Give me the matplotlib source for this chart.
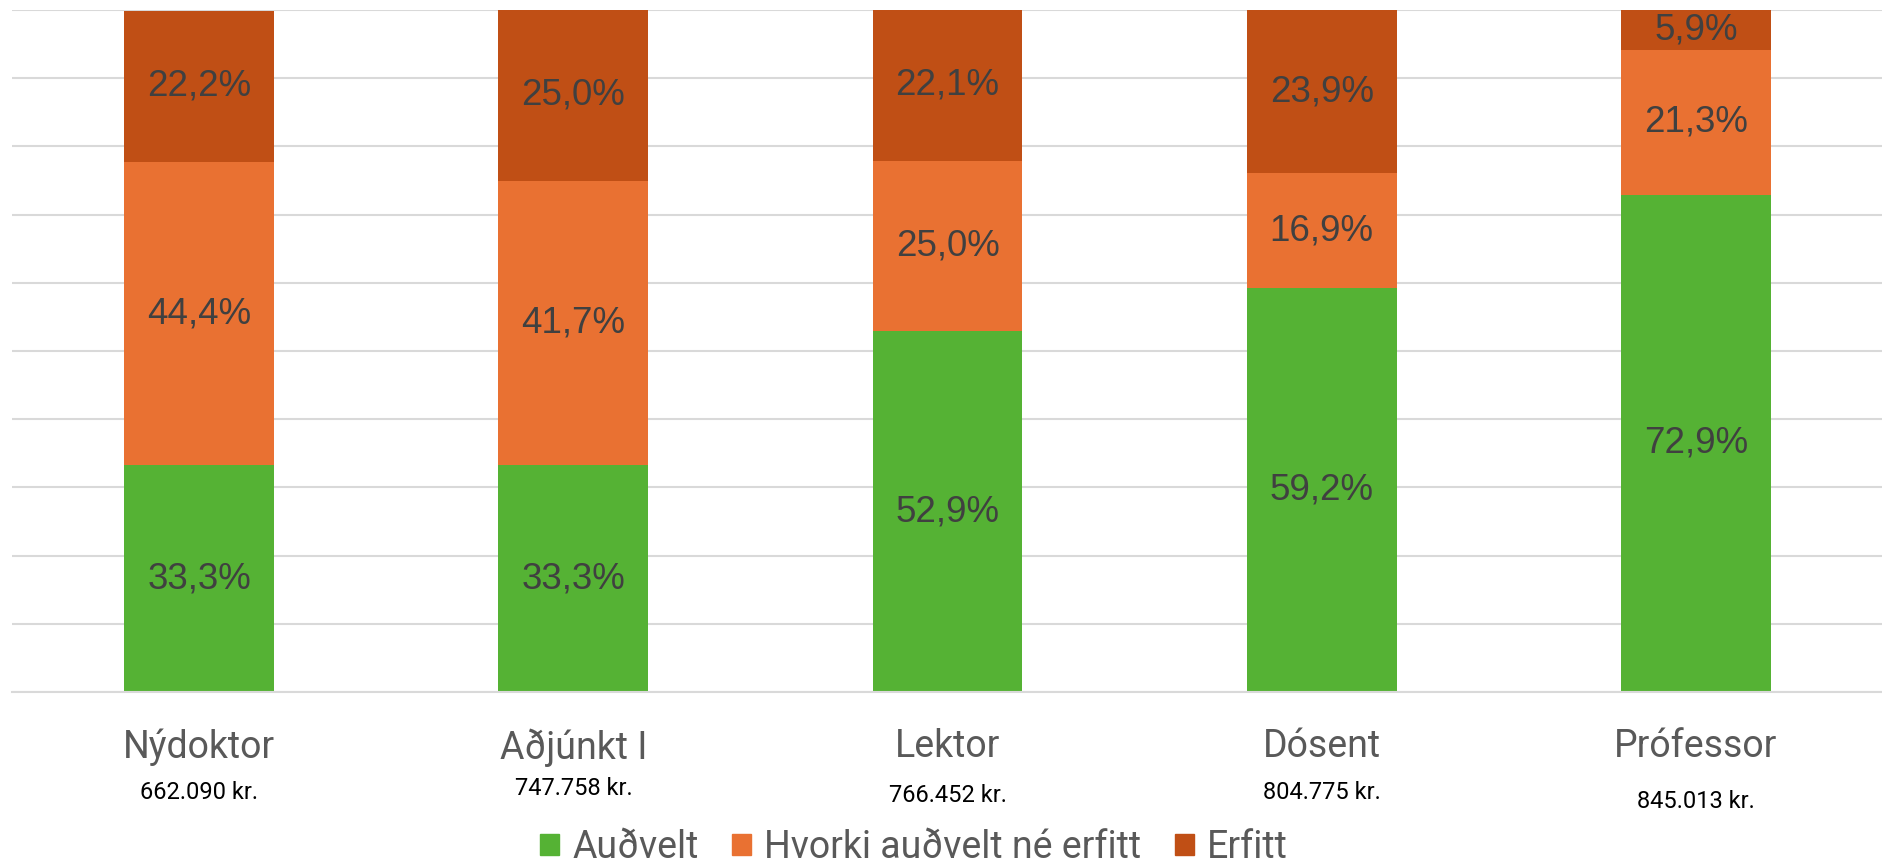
import matplotlib
matplotlib.use("Agg")
import matplotlib.pyplot as plt
import numpy as np
from matplotlib.patches import Patch

flokkar = ['Nýdoktor', 'Aðjúnkt I', 'Lektor', 'Dósent', 'Prófessor']
laun = ['662.090 kr.', '747.758 kr.', '766.452 kr.', '804.775 kr.', '845.013 kr.']
audvelt = [33.3, 33.3, 52.9, 59.2, 72.9]
hvorki = [44.4, 41.7, 25.0, 16.9, 21.3]
erfitt = [22.2, 25.0, 22.1, 23.9, 5.9]
heiti = ['Auðvelt', 'Hvorki auðvelt né erfitt', 'Erfitt']
litir = ['#55B234', '#E97132', '#C04F15']

# hæð launamiða undir ás (brot af hæð ássins)
laun_y = [-0.147, -0.142, -0.151, -0.147, -0.160]

letur = ['Roboto', 'DejaVu Sans']

fig = plt.figure(figsize=(18.83, 8.64), dpi=100)
ax = fig.add_axes([0.0064, 0.199, 0.9936, 0.7893])

x = np.arange(len(flokkar))
botn = np.zeros(len(flokkar))
for gildi, litur in zip([audvelt, hvorki, erfitt], litir):
    gildi = np.array(gildi) / 100
    bars = ax.bar(x, gildi, width=0.4, bottom=botn, color=litur, zorder=2)
    for b, v, y0 in zip(bars, gildi, botn):
        ax.text(b.get_x() + b.get_width() / 2, y0 + v / 2,
                f'{v * 100:.1f}%'.replace('.', ','),
                ha='center', va='center', fontsize=26.5, color='#404040',
                family='Liberation Sans', zorder=3)
    botn += gildi

ax.set_xlim(-0.5, len(flokkar) - 0.5)
ax.set_ylim(0, 1)
ax.set_yticks(np.arange(0, 1.01, 0.1))
ax.yaxis.grid(True, color='#D9D9D9', linewidth=1.5, zorder=0)
ax.tick_params(axis='y', left=False, labelleft=False)
ax.tick_params(axis='x', length=0, pad=26)
ax.set_xticks(x)
ax.set_xticklabels(flokkar, fontsize=27, color='#595959', family=letur)
for s in ['top', 'left', 'right']:
    ax.spines[s].set_visible(False)
ax.spines['bottom'].set_color('#D9D9D9')
ax.spines['bottom'].set_linewidth(1.5)

for xi, t, yy in zip(x, laun, laun_y):
    ax.text(xi, yy, t, transform=ax.get_xaxis_transform(),
            ha='center', va='center', fontsize=17, color='black', family=letur)

handles = [Patch(color=c, label=h) for c, h in zip(litir, heiti)]
fig.legend(handles=handles, loc='center', bbox_to_anchor=(914 / 1883, 1 - 847 / 864),
           ncol=3, frameon=False, handlelength=0.5, handleheight=0.5,
           handletextpad=0.35, columnspacing=0.9, labelcolor='#595959',
           prop={'family': letur, 'size': 27})

fig.savefig('out.png', dpi=100)
